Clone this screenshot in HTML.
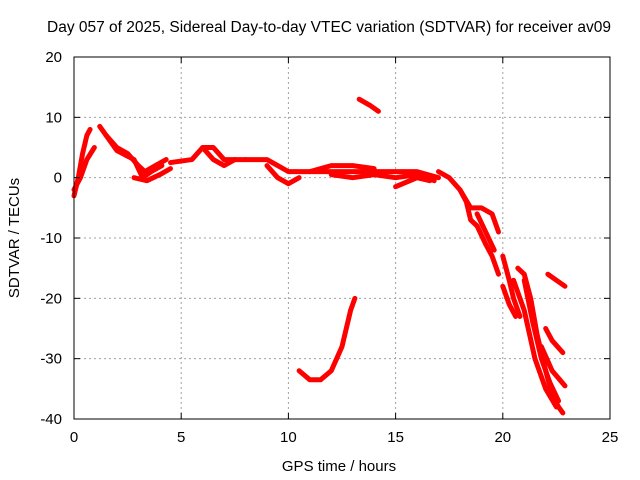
<!DOCTYPE html>
<html><head><meta charset="utf-8"><style>
body{margin:0;background:#fff}
svg{display:block;font-family:"Liberation Sans",sans-serif}
</style></head><body>
<svg id="chart" width="640" height="480">
<rect width="640" height="480" fill="#fff"/>
<text x="329" y="32" font-size="15.5" text-anchor="middle">Day 057 of 2025, Sidereal Day-to-day VTEC variation (SDTVAR) for receiver av09</text>
<text x="339" y="471" font-size="15" text-anchor="middle">GPS time / hours</text>
<text transform="translate(19,238) rotate(-90)" font-size="15" text-anchor="middle">SDTVAR / TECUs</text>
<g id="grid"></g><g id="series"></g><g id="axes"></g>
</svg>
<script>
const xTicks=[0,5,10,15,20,25];
const yTicks=[20,10,0,-10,-20,-30,-40];
const track1=[[0,-3],[0.2,0],[0.4,4],[0.6,7],[0.75,8]];
const track2=[[0,-2],[0.3,0],[0.6,3],[0.95,5]];
const track3=[[1.2,8.5],[1.5,7],[2,5],[2.5,4],[3,2],[3.3,1],[3.8,2],[4.3,3]];
const track4=[[1.5,7],[2,4.5],[2.8,3],[3.2,0],[3.6,1],[4.1,2]];
const track5=[[2.8,0],[3.4,-0.5],[4,0.5],[4.5,1.5]];
const track6=[[4.5,2.5],[5.5,3],[6,5],[6.5,5],[7,3],[7.5,3],[8,3]];
const track7=[[6,5],[6.5,3],[7,2],[7.5,3]];
const track8=[[8,3],[9,3],[9.5,2],[10,1],[11,1],[12,1],[13,1],[14,1],[15,1],[16,1],[17,0]];
const track9=[[9,2],[9.5,0],[10,-1],[10.5,0]];
const track10=[[11,1],[12,2],[13,2],[14,1.5]];
const track11=[[15,-1.5],[16,0],[16.6,-0.5]];
const track12=[[17,1],[17.5,0],[18,-2],[18.5,-5],[19,-5],[19.5,-6],[19.8,-9]];
const track13=[[18,-2],[18.3,-4],[18.5,-7],[18.8,-8],[19.2,-11],[19.5,-13],[19.8,-16]];
const track14=[[18.8,-6],[19.2,-9],[19.6,-12]];
const track15=[[20,-13],[20.3,-17],[20.5,-20],[20.8,-23]];
const track16=[[20,-18],[20.3,-21],[20.6,-23]];
const track17=[[20.7,-15],[21,-16],[21.3,-20],[21.6,-26],[22,-32],[22.3,-36],[22.6,-38],[22.8,-39]];
const track18=[[20.5,-17],[21,-22],[21.5,-30],[22,-35],[22.5,-38]];
const track19=[[22,-25],[22.3,-27],[22.8,-29]];
const track20=[[21.8,-28],[22.3,-32],[22.9,-34.5]];
const track21=[[22.1,-16],[22.5,-17],[22.9,-18]];
const track22=[[13.3,13],[13.8,12],[14.2,11]];
const track23=[[10.5,-32],[11,-33.5],[11.5,-33.5],[12,-32],[12.5,-28],[12.9,-22],[13.1,-20]];
const track24=[[12,0.5],[13,0],[14,0.5],[15,0],[16,0.5],[16.8,-0.5]];
const track25=[[21,-17],[21.4,-24],[21.8,-30],[22.2,-34],[22.6,-37]];
const tracks=[track1,track2,track3,track4,track5,track6,track7,track8,track9,track10,track11,track12,track13,track14,track15,track16,track17,track18,track19,track20,track21,track22,track23,track24,track25];

const L=74,R=610,T=57,B=419;
const xs=v=>L+(v-0)/25*(R-L);
const ys=v=>T+(20-v)/60*(B-T);
const NS='http://www.w3.org/2000/svg';
function mk(t,a,p){const e=document.createElementNS(NS,t);for(const k in a)e.setAttribute(k,a[k]);p.appendChild(e);return e;}
const grid=document.getElementById('grid'),axes=document.getElementById('axes'),series=document.getElementById('series');
xTicks.forEach(t=>{
  const x=xs(t);
  if(t>0&&t<25){const g=mk('line',{x1:x,x2:x,y1:T,y2:B,stroke:'#a0a0a0','stroke-dasharray':'2,3'},grid);
  
  }
  mk('line',{x1:x,x2:x,y1:B,y2:B-6,stroke:'#000'},axes);
  mk('line',{x1:x,x2:x,y1:T,y2:T+6,stroke:'#000'},axes);
  const l=mk('text',{x:x,y:B+23,'font-size':15,'text-anchor':'middle'},axes);l.textContent=t;
  
  
});
yTicks.forEach(t=>{
  const y=ys(t);
  if(t>-40&&t<20){const g=mk('line',{x1:L,x2:R,y1:y,y2:y,stroke:'#a0a0a0','stroke-dasharray':'2,3'},grid);
  
  }
  mk('line',{x1:L,x2:L+6,y1:y,y2:y,stroke:'#000'},axes);
  mk('line',{x1:R,x2:R-6,y1:y,y2:y,stroke:'#000'},axes);
  const l=mk('text',{x:L-12,y:y+5,'font-size':15,'text-anchor':'end'},axes);l.textContent=t;
  
  
});
const fr=mk('rect',{x:L,y:T,width:R-L,height:B-T,fill:'none',stroke:'#000'},axes);


tracks.forEach(tr=>{
  const p=mk('polyline',{points:tr.map(d=>xs(d[0])+','+ys(d[1])).join(' '),fill:'none',stroke:'#ff0000','stroke-width':5,'stroke-linejoin':'round','stroke-linecap':'round'},series);
  
  
});
</script>
</body></html>
